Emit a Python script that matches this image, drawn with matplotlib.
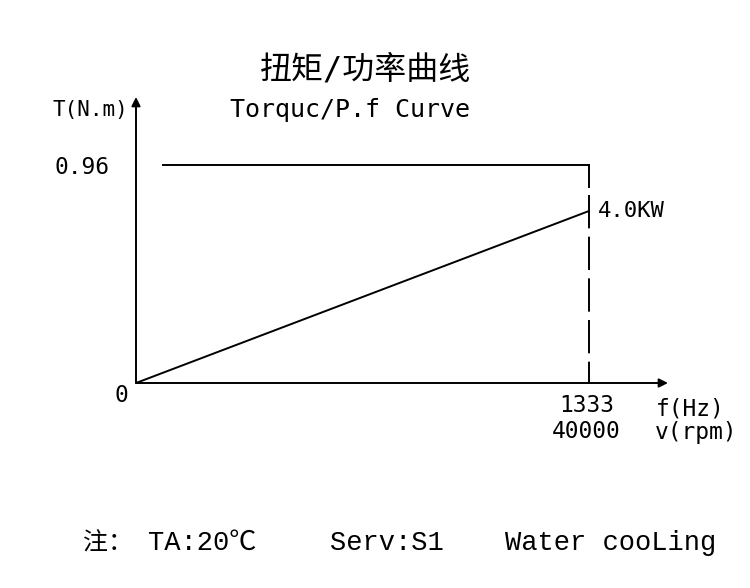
import matplotlib
matplotlib.use("Agg")
import matplotlib.pyplot as plt

plt.rcParams["lines.scale_dashes"] = False

# data
freq_hz = [0, 1333]
speed_rpm = ["0", "40000"]
torque_nm = [0.96, 0.96]
power_kw = [0, 4.0]
torque_tick = 0.96
rated_power = "4.0KW"

CAD = ["DejaVu Sans Mono", "Noto Sans CJK SC"]
NOTE = ["Liberation Mono", "Noto Sans CJK SC"]

fig = plt.figure(figsize=(7.5, 5.88), dpi=100, facecolor="white")
ax = fig.add_axes([136 / 750, 1 - 383 / 588, 532 / 750, 286 / 588])
ax.set_xlim(0, 1333 * 532 / 453)
ax.set_ylim(0, 0.96 * 286 / 218)
for s in ax.spines.values():
    s.set_visible(False)
ax.set_xticks([])
ax.set_yticks([])
ax.patch.set_alpha(0)

# power on its own scale
axp = ax.twinx()
axp.set_ylim(0, 4.0 * 286 / 172)
axp.set_axis_off()

# axes arrows
arr = dict(arrowstyle="-|>", lw=1.4, color="black", mutation_scale=13,
           shrinkA=0, shrinkB=0)
ax.annotate("", xy=(1, 0), xytext=(0, 0), xycoords="axes fraction", arrowprops=arr)
ax.annotate("", xy=(0, 1), xytext=(0, 0), xycoords="axes fraction", arrowprops=arr)

# torque line (starts a little right of the axis)
ax.plot([freq_hz[0] + 80, freq_hz[1]], torque_nm, color="black", lw=1.4)
# rated speed marker: solid stub then dashed down
ax.plot([freq_hz[1], freq_hz[1]], [torque_tick, 0.863], color="black", lw=1.4)
ax.plot([freq_hz[1], freq_hz[1]], [0.827, 0], color="black", lw=1.4,
        dashes=(24, 6))
# power line
axp.plot(freq_hz, power_kw, color="black", lw=1.4)
axp.annotate(rated_power, (freq_hz[1], power_kw[1]), xytext=(9, 0),
             textcoords="offset pixels", fontsize=16, family=CAD,
             va="center", ha="left")

# labels
ax.annotate(f"{torque_tick:.2f}", (0, torque_tick), xytext=(-26, -3),
            textcoords="offset pixels", fontsize=16.5, family=CAD,
            ha="right", va="center")
ax.annotate("0", (0, 0), xytext=(-15, -12), textcoords="offset pixels",
            fontsize=16.5, family=CAD, ha="center", va="center")
ax.annotate(f"{freq_hz[1]}", (freq_hz[1], 0), xytext=(-2, -22),
            textcoords="offset pixels", fontsize=16.5, family=CAD,
            ha="center", va="center")
ax.annotate(speed_rpm[1], (freq_hz[1], 0), xytext=(-3, -49),
            textcoords="offset pixels", fontsize=16.5, family=CAD,
            ha="center", va="center")
fig.text(690 / 750, 1 - 409 / 588, "f(Hz)", fontsize=16.5, family=CAD,
         ha="center", va="center")
fig.text(696 / 750, 1 - 432 / 588, "v(rpm)", fontsize=16.5, family=CAD,
         ha="center", va="center")

fig.text(90 / 750, 1 - 110 / 588, "T(N.m)", fontsize=15, family=CAD,
         ha="center", va="center")
fig.text(350 / 750, 1 - 110 / 588, "Torquc/P.f Curve", fontsize=18, family=CAD,
         ha="center", va="center")
fig.text(366 / 750, 1 - 70 / 588, "扭矩/功率曲线", fontsize=23, family=CAD,
         ha="center", va="center")

# note line
fig.text(83 / 750, 1 - 543 / 588, "注：", fontsize=18, family=NOTE,
         ha="left", va="center")
fig.text(148 / 750, 1 - 543 / 588, "TA:20℃", fontsize=19.5, family=NOTE,
         ha="left", va="center")
fig.text(330 / 750, 1 - 543 / 588, "Serv:S1", fontsize=19.5, family=NOTE,
         ha="left", va="center")
fig.text(505 / 750, 1 - 543 / 588, "Water cooLing", fontsize=19.5, family=NOTE,
         ha="left", va="center")

fig.savefig("out.png", dpi=100, facecolor="white")
